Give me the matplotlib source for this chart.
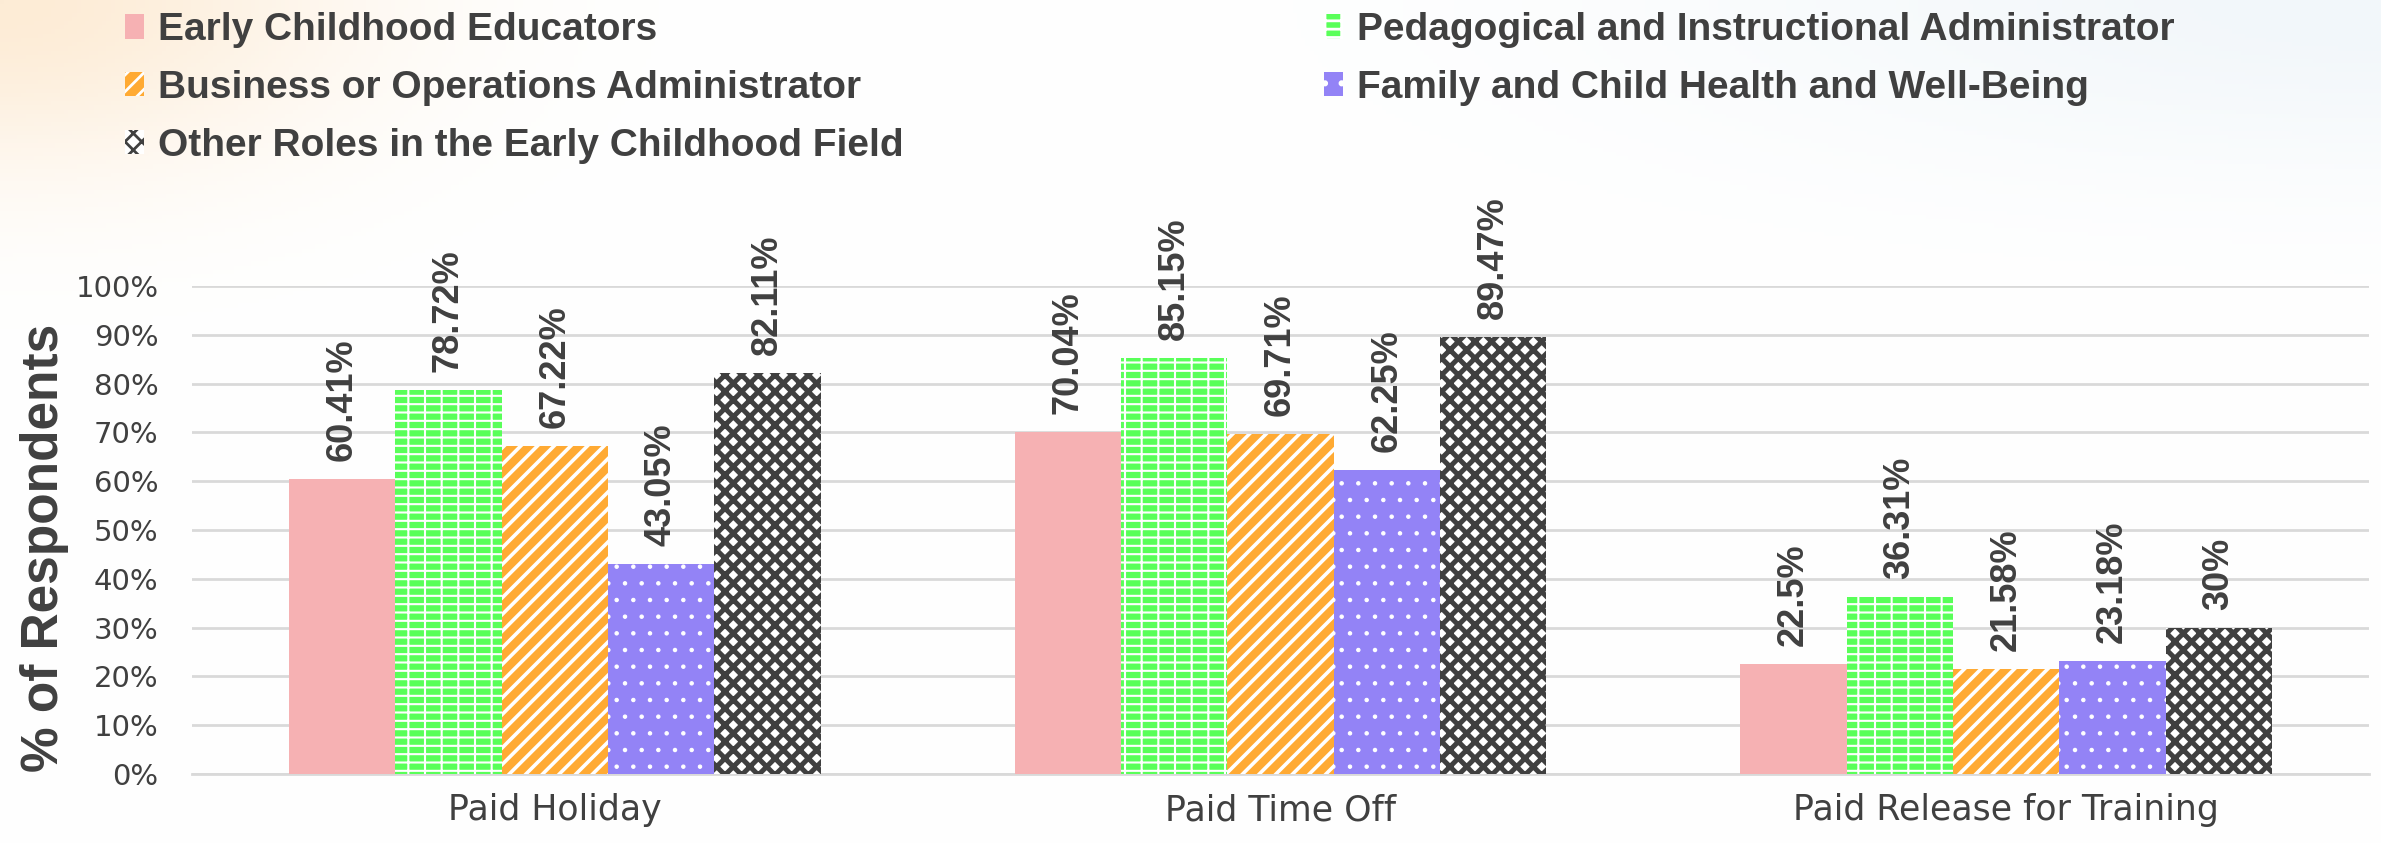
import matplotlib
matplotlib.use("Agg")
import matplotlib.pyplot as plt
import numpy as np

categories = ["Paid Holiday", "Paid Time Off", "Paid Release for Training"]
roles = ["Early Childhood Educators",
         "Pedagogical and Instructional Administrator",
         "Business or Operations Administrator",
         "Family and Child Health and Well-Being",
         "Other Roles in the Early Childhood Field"]

educators = [60.41, 70.04, 22.5]
pedagogical = [78.72, 85.15, 36.31]
business = [67.22, 69.71, 21.58]
family = [43.05, 62.25, 23.18]
other = [82.11, 89.47, 30]

series = [educators, pedagogical, business, family, other]
faces = ["#F6B1B3", "#59FF59", "#FFAA33", "#9383F6", "white"]
hatch_cols = ["#F6B1B3", "white", "white", "white", "#404040"]
hatches = [None, "--|", "//", ".", "xx"]
hatch_lw = [1.0, 1.5, 2.6, 0.8, 3.6]

yticks = [0, 10, 20, 30, 40, 50, 60, 70, 80, 90, 100]

plt.rcParams["hatch.linewidth"] = 2.0
txt = "#404040"
bold_font = ["Liberation Sans", "DejaVu Sans"]

fig = plt.figure(figsize=(23.81, 8.43), dpi=100)

# soft background glow (top left warm, top right cool)
bg = fig.add_axes([0, 0, 1, 1], zorder=-10)
h, w = 200, 560
yy, xx = np.mgrid[0:h, 0:w]
warm = np.exp(-(((xx - 0) / 80.0) ** 2 + ((yy - 0) / 40.0) ** 2))
cool = np.exp(-(((xx - w) / 160.0) ** 2 + ((yy - 0) / 40.0) ** 2))
img = np.ones((h, w, 3))
img -= warm[..., None] * (1 - np.array([253, 236, 214]) / 255.0)
img -= cool[..., None] * (1 - np.array([242, 247, 250]) / 255.0)
bg.imshow(img, aspect="auto", extent=[0, 1, 0, 1])
bg.axis("off")

ax = fig.add_axes([192 / 2381, 1 - 774 / 843, 2177 / 2381, 488 / 843])
ax.set_facecolor("none")

x = np.arange(len(categories))
bw = 0.1466
handles = []
for i, vals in enumerate(series):
    pos = x + (i - 2) * bw
    bars = ax.bar(pos, vals, bw, color=faces[i], hatch=hatches[i],
                  edgecolor=hatch_cols[i], linewidth=0, zorder=3, label=roles[i])
    for p in bars:
        if hasattr(p, "set_hatch_linewidth"):
            p.set_hatch_linewidth(hatch_lw[i])
    handles.append(bars)
    for xp, v in zip(pos, vals):
        ax.annotate(f"{v:g}%", (xp, v), xytext=(0, 13), textcoords="offset points",
                    rotation=90, ha="center", va="bottom", fontsize=26,
                    fontweight="bold", family=bold_font, color=txt, clip_on=False)

ax.set_xlim(-0.5, 2.5)
ax.set_ylim(0, 100)
ax.set_yticks(yticks)
ax.set_yticklabels([f"{t}%" for t in yticks])
ax.set_xticks(x)
ax.set_xticklabels(categories)
ax.tick_params(axis="y", length=0, pad=24, labelsize=21, labelcolor=txt)
ax.tick_params(axis="x", length=0, pad=14, labelsize=25, labelcolor=txt)
ax.grid(axis="y", color="#d9d9d9", linewidth=2, zorder=0)
for s in ["top", "right", "left"]:
    ax.spines[s].set_visible(False)
ax.spines["bottom"].set_color("#d9d9d9")
ax.spines["bottom"].set_linewidth(2)

fig.text(45 / 2381, 1 - 548 / 843, "% of Respondents", rotation=90, ha="center",
         va="center", fontsize=37, fontweight="bold", family=bold_font, color=txt)

leg_kw = dict(frameon=False, borderpad=0, borderaxespad=0, handlelength=0.5,
              handleheight=0.6, handletextpad=0.35, labelspacing=0.56,
              loc="upper left",
              prop={"family": bold_font, "weight": "bold", "size": 28})
leg1 = fig.legend([handles[0], handles[2], handles[4]],
                  [roles[0], roles[2], roles[4]],
                  bbox_to_anchor=(125 / 2381, 1 - 12 / 843), **leg_kw)
for t in leg1.get_texts():
    t.set_color(txt)
leg2 = fig.legend([handles[1], handles[3]], [roles[1], roles[3]],
                  bbox_to_anchor=(1324 / 2381, 1 - 12 / 843), **leg_kw)
for t in leg2.get_texts():
    t.set_color(txt)

plt.savefig("out.png", dpi=100)
